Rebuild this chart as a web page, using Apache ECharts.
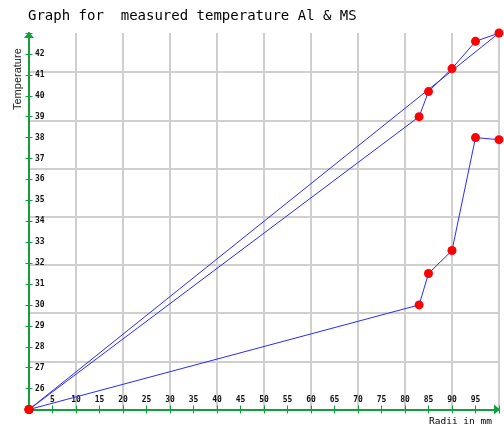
<!DOCTYPE html>
<html>
<head>
<meta charset="utf-8">
<script src="https://cdn.jsdelivr.net/npm/echarts@6/dist/echarts.min.js"></script>
<style>html,body{margin:0;padding:0;background:#fff}#c{width:504px;height:426px}</style>
</head>
<body>
<div id="c"></div>
<script>
// Data
var seriesAlX = [0, 83, 85, 90, 95, 100, 0];
var seriesAlY = [25, 39.0, 40.2, 41.3, 42.6, 43.0, 25];
var seriesMSX = [0, 83, 85, 90, 95, 100];
var seriesMSY = [25, 30.0, 31.5, 32.6, 38.0, 37.9];
var xTickLabels = [5, 10, 15, 20, 25, 30, 35, 40, 45, 50, 55, 60, 65, 70, 75, 80, 85, 90, 95];
var yTickLabels = [26, 27, 28, 29, 30, 31, 32, 33, 34, 35, 36, 37, 38, 39, 40, 41, 42];

var GREEN = '#12a03c';
function pairs(xs, ys) { return xs.map(function (x, i) { return [x, ys[i]]; }); }
var lblFont = { fontFamily: 'DejaVu Sans Mono', fontSize: 8, fontWeight: 'bold', color: '#111' };

var chart = echarts.init(document.getElementById('c'), null, { renderer: 'canvas' });
chart.setOption({
  backgroundColor: '#fff',
  animation: false,
  title: {
    text: 'Graph for  measured temperature Al & MS',
    left: 28, top: 9, padding: 0,
    textStyle: { fontFamily: 'DejaVu Sans Mono', fontSize: 14, fontWeight: 'normal', color: '#000' }
  },
  grid: { left: 29, right: 5, top: 33, bottom: 16.5, containLabel: false, outerBoundsMode: 'none' },
  xAxis: [
    {
      type: 'value', min: 0, max: 100, interval: 5, position: 'bottom',
      name: 'Radii in mm', nameLocation: 'end', nameGap: -70,
      nameTextStyle: { fontFamily: 'DejaVu Sans Mono', fontSize: 9.5, color: '#000', align: 'left', verticalAlign: 'top', padding: [7, 0, 0, 0] },
      axisLine: { show: true, onZero: false, symbol: ['none', 'triangle'], symbolSize: [10, 6], symbolOffset: [0, -2], lineStyle: { color: GREEN, width: 2 } },
      axisTick: { show: true, inside: true, length: 4, lineStyle: { color: GREEN, width: 1 } },
      axisLabel: Object.assign({ show: true, inside: true, margin: 6,
        formatter: function (v) { return xTickLabels.indexOf(v) >= 0 ? String(v) : ''; } }, lblFont),
      splitLine: { show: false }
    },
    {
      type: 'value', min: 0, max: 100, interval: 10, position: 'bottom',
      axisLine: { show: false, onZero: false },
      axisTick: { show: true, inside: false, length: 4, lineStyle: { color: GREEN, width: 1 } },
      minorTick: { show: true, splitNumber: 2, length: 4, lineStyle: { color: GREEN, width: 1 } },
      axisLabel: { show: false },
      splitLine: { show: true, lineStyle: { color: '#cfcfcf', width: 2 } }
    }
  ],
  yAxis: [
    {
      type: 'value', min: 25, max: 43, interval: 1, position: 'left',
      name: 'Temperature', nameLocation: 'end', nameGap: -77, nameRotate: 90,
      nameTextStyle: { fontFamily: 'Liberation Sans', fontSize: 11, color: '#222', align: 'left', verticalAlign: 'bottom', padding: [0, 0, 6, 0] },
      axisLine: { show: true, onZero: false, symbol: ['none', 'triangle'], symbolSize: [10, 6], symbolOffset: [0, -2], lineStyle: { color: GREEN, width: 2 } },
      axisTick: { show: true, inside: true, length: 3.5, lineStyle: { color: GREEN, width: 1 } },
      axisLabel: Object.assign({ show: true, inside: true, margin: 6,
        formatter: function (v) { return yTickLabels.indexOf(v) >= 0 ? String(v) : ''; } }, lblFont),
      splitLine: { show: false }
    },
    {
      type: 'value', min: 25, max: 43, interval: 1, position: 'left',
      axisLine: { show: false, onZero: false },
      axisTick: { show: true, inside: false, length: 3.5, lineStyle: { color: GREEN, width: 1 } },
      axisLabel: { show: false },
      splitLine: { show: false }
    },
    {
      type: 'value', min: 0, max: 7.81, interval: 1, position: 'right',
      axisLine: { show: false }, axisTick: { show: false }, axisLabel: { show: false },
      splitLine: { show: true, showMinLine: false, showMaxLine: false, lineStyle: { color: '#cfcfcf', width: 2 } }
    }
  ],
  series: [
    {
      name: 'Al', type: 'line', xAxisIndex: 0, yAxisIndex: 0,
      data: pairs(seriesAlX, seriesAlY),
      symbol: 'circle', symbolSize: 9, showAllSymbol: true,
      itemStyle: { color: '#ff0000' },
      lineStyle: { color: '#2a2aff', width: 1 }
    },
    {
      name: 'MS', type: 'line', xAxisIndex: 0, yAxisIndex: 0,
      data: pairs(seriesMSX, seriesMSY),
      symbol: 'circle', symbolSize: 9, showAllSymbol: true,
      itemStyle: { color: '#ff0000' },
      lineStyle: { color: '#2a2aff', width: 1 }
    }
  ]
});
</script>
</body>
</html>
